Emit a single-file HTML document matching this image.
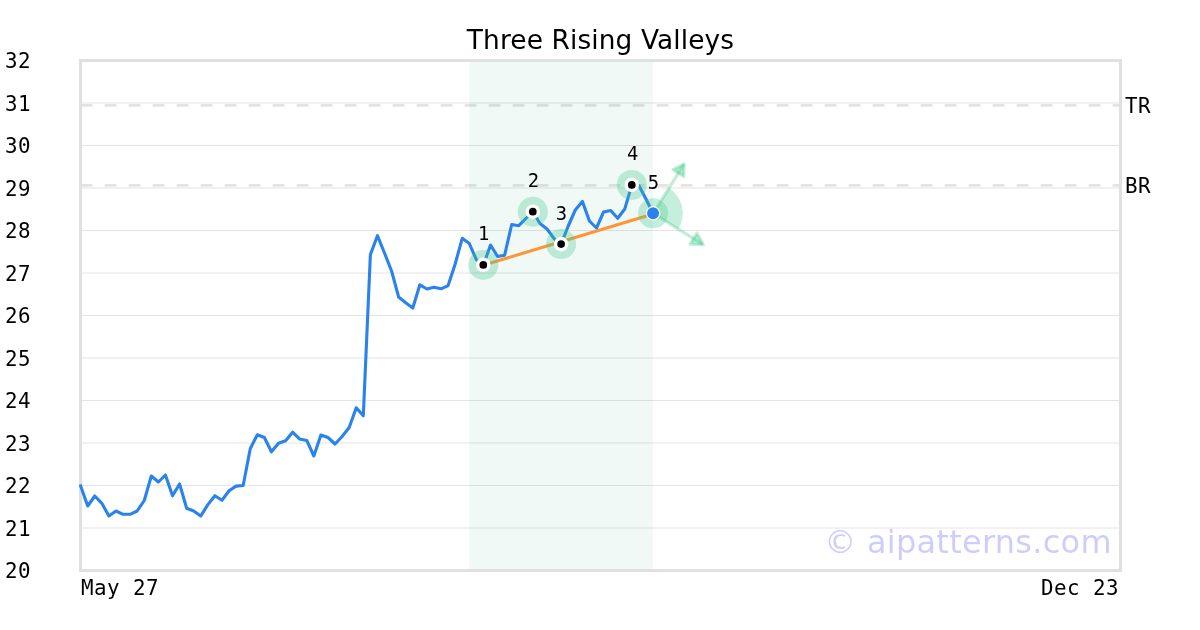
<!DOCTYPE html>
<html lang="en"><head><meta charset="utf-8"><title>Three Rising Valleys</title>
<style>html,body{margin:0;padding:0;background:#fff;}body{width:1200px;height:630px;overflow:hidden;}svg{display:block;will-change:transform;}.mono{font-family:"DejaVu Sans Mono","Liberation Mono",monospace;letter-spacing:0.46px;}.sans{font-family:"DejaVu Sans","Liberation Sans",sans-serif;}</style></head><body>
<svg width="1200" height="630" viewBox="0 0 1200 630">
<rect x="0" y="0" width="1200" height="630" fill="#ffffff"/>
<line x1="80.5" x2="1120.5" y1="103.0" y2="103.0" stroke="#e4e4e4" stroke-width="1.1"/>
<line x1="80.5" x2="1120.5" y1="145.5" y2="145.5" stroke="#e4e4e4" stroke-width="1.1"/>
<line x1="80.5" x2="1120.5" y1="188.0" y2="188.0" stroke="#e4e4e4" stroke-width="1.1"/>
<line x1="80.5" x2="1120.5" y1="230.5" y2="230.5" stroke="#e4e4e4" stroke-width="1.1"/>
<line x1="80.5" x2="1120.5" y1="273.0" y2="273.0" stroke="#e4e4e4" stroke-width="1.1"/>
<line x1="80.5" x2="1120.5" y1="315.5" y2="315.5" stroke="#e4e4e4" stroke-width="1.1"/>
<line x1="80.5" x2="1120.5" y1="358.0" y2="358.0" stroke="#e4e4e4" stroke-width="1.1"/>
<line x1="80.5" x2="1120.5" y1="400.5" y2="400.5" stroke="#e4e4e4" stroke-width="1.1"/>
<line x1="80.5" x2="1120.5" y1="443.0" y2="443.0" stroke="#e4e4e4" stroke-width="1.1"/>
<line x1="80.5" x2="1120.5" y1="485.5" y2="485.5" stroke="#e4e4e4" stroke-width="1.1"/>
<line x1="80.5" x2="1120.5" y1="528.0" y2="528.0" stroke="#e4e4e4" stroke-width="1.1"/>
<line x1="80.7" x2="1120.5" y1="105.4" y2="105.4" stroke="#e3e3e3" stroke-width="2.8" stroke-dasharray="11.7 12.3"/>
<line x1="80.7" x2="1120.5" y1="185.4" y2="185.4" stroke="#e3e3e3" stroke-width="2.8" stroke-dasharray="11.7 12.3"/>
<rect x="469.2" y="60.5" width="183.85" height="510" fill="#3dae88" fill-opacity="0.08"/>
<text class="sans" x="824.2" y="552.7" font-size="31.94" letter-spacing="0.3" fill="#0000ff" fill-opacity="0.2">© aipatterns.com</text>
<rect x="80.5" y="60.5" width="1040" height="510" fill="none" stroke="#e0e0e0" stroke-width="3"/>
<polyline points="80.65,486.00 87.72,506.00 94.78,496.00 101.85,503.30 108.92,516.00 115.98,511.00 123.05,514.30 130.12,514.30 137.18,511.00 144.25,500.50 151.31,476.00 158.38,482.00 165.45,475.00 172.51,495.80 179.58,484.00 186.65,508.20 193.71,511.00 200.78,516.00 207.85,504.60 214.91,495.70 221.98,500.20 229.05,490.70 236.11,486.10 243.18,485.50 250.25,448.80 257.31,434.80 264.38,437.50 271.45,451.80 278.51,443.20 285.58,440.80 292.64,432.20 299.71,439.10 306.78,440.40 313.84,456.00 320.91,435.00 327.98,437.50 335.04,444.00 342.11,436.50 349.18,427.50 356.24,407.80 363.31,415.80 370.38,254.60 377.44,235.70 384.51,253.00 391.58,271.00 398.64,297.00 405.71,302.80 412.78,308.00 419.84,284.80 426.91,289.00 433.98,287.20 441.04,288.80 448.11,285.60 455.17,264.00 462.24,238.30 469.31,243.50 476.37,259.80 483.44,264.90 490.51,245.00 497.57,256.50 504.64,255.20 511.71,224.50 518.77,225.70 525.84,218.50 532.91,211.70 539.97,223.50 547.04,229.00 554.11,238.70 561.17,244.10 568.24,226.00 575.30,210.00 582.37,201.40 589.44,221.00 596.50,228.00 603.57,212.00 610.64,210.50 617.70,218.30 624.77,209.00 631.84,184.90 638.90,185.50 645.97,199.00 653.04,213.30" fill="none" stroke="#2a82ec" stroke-width="3.1" stroke-linejoin="round" stroke-linecap="square"/>
<line x1="483.30" y1="265.2" x2="653.06" y2="214.0" stroke="#ff9537" stroke-width="3.1"/>
<path d="M653.06,213.3 L669.16,188.22 A29.8,29.8 0 0 1 678.33,229.09 Z" fill="#3ec68a" fill-opacity="0.3"/>
<circle cx="483.30" cy="264.9" r="15" fill="#3ec68a" fill-opacity="0.3"/>
<circle cx="532.80" cy="211.7" r="15" fill="#3ec68a" fill-opacity="0.3"/>
<circle cx="561.10" cy="244.1" r="15" fill="#3ec68a" fill-opacity="0.3"/>
<circle cx="631.80" cy="184.9" r="15" fill="#3ec68a" fill-opacity="0.3"/>
<circle cx="653.06" cy="213.3" r="15" fill="#3ec68a" fill-opacity="0.3"/>
<line x1="653.06" y1="213.3" x2="683.11" y2="165.57" stroke="#3ec68a" stroke-opacity="0.32" stroke-width="3.2" stroke-linecap="round"/><polygon points="684.18,163.88 683.70,176.46 673.04,169.75" fill="#3ec68a" fill-opacity="0.32" stroke="#3ec68a" stroke-opacity="0.32" stroke-width="3.2" stroke-linejoin="round"/>
<line x1="653.06" y1="213.3" x2="701.65" y2="243.66" stroke="#3ec68a" stroke-opacity="0.32" stroke-width="3.2" stroke-linecap="round"/><polygon points="703.35,244.72 690.21,244.06 696.99,233.20" fill="#3ec68a" fill-opacity="0.32" stroke="#3ec68a" stroke-opacity="0.32" stroke-width="3.2" stroke-linejoin="round"/>
<circle cx="483.30" cy="264.9" r="7.3" fill="#ffffff"/>
<circle cx="483.30" cy="264.9" r="3.85" fill="#000000"/>
<circle cx="532.80" cy="211.7" r="7.3" fill="#ffffff"/>
<circle cx="532.80" cy="211.7" r="3.85" fill="#000000"/>
<circle cx="561.10" cy="244.1" r="7.3" fill="#ffffff"/>
<circle cx="561.10" cy="244.1" r="3.85" fill="#000000"/>
<circle cx="631.80" cy="184.9" r="7.3" fill="#ffffff"/>
<circle cx="631.80" cy="184.9" r="3.85" fill="#000000"/>
<circle cx="653.06" cy="213.3" r="6.6" fill="#2a82ec" stroke="#ffffff" stroke-width="1.2"/>
<text class="mono" x="483.80" y="240.1" font-size="18.8" text-anchor="middle" fill="#000">1</text>
<text class="mono" x="533.70" y="187.1" font-size="18.8" text-anchor="middle" fill="#000">2</text>
<text class="mono" x="561.60" y="220.0" font-size="18.8" text-anchor="middle" fill="#000">3</text>
<text class="mono" x="632.80" y="160.2" font-size="18.8" text-anchor="middle" fill="#000">4</text>
<text class="mono" x="653.56" y="188.7" font-size="18.8" text-anchor="middle" fill="#000">5</text>
<text class="mono" x="5" y="68.1" font-size="20.83" fill="#000">32</text>
<text class="mono" x="5" y="110.6" font-size="20.83" fill="#000">31</text>
<text class="mono" x="5" y="153.1" font-size="20.83" fill="#000">30</text>
<text class="mono" x="5" y="195.6" font-size="20.83" fill="#000">29</text>
<text class="mono" x="5" y="238.1" font-size="20.83" fill="#000">28</text>
<text class="mono" x="5" y="280.6" font-size="20.83" fill="#000">27</text>
<text class="mono" x="5" y="323.1" font-size="20.83" fill="#000">26</text>
<text class="mono" x="5" y="365.6" font-size="20.83" fill="#000">25</text>
<text class="mono" x="5" y="408.1" font-size="20.83" fill="#000">24</text>
<text class="mono" x="5" y="450.6" font-size="20.83" fill="#000">23</text>
<text class="mono" x="5" y="493.1" font-size="20.83" fill="#000">22</text>
<text class="mono" x="5" y="535.6" font-size="20.83" fill="#000">21</text>
<text class="mono" x="5" y="578.1" font-size="20.83" fill="#000">20</text>
<text class="mono" x="81.1" y="595" font-size="20.83" fill="#000" xml:space="preserve">May 27</text>
<text class="mono" x="1119.0" y="595" font-size="20.83" text-anchor="end" fill="#000" xml:space="preserve">Dec 23</text>
<text class="mono" x="1125" y="112.6" font-size="20.83" fill="#000">TR</text>
<text class="mono" x="1125" y="193" font-size="20.83" fill="#000">BR</text>
<text class="sans" x="600.5" y="48.7" font-size="26.39" letter-spacing="0.12" text-anchor="middle" fill="#000">Three Rising Valleys</text>
</svg></body></html>
